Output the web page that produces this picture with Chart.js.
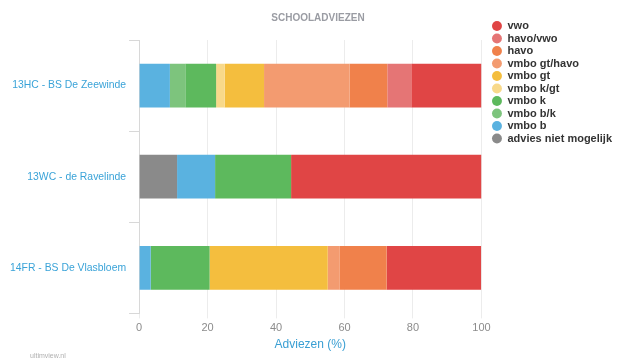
<!DOCTYPE html>
<html>
<head>
<meta charset="utf-8">
<script src="https://cdn.jsdelivr.net/npm/chart.js@4"></script>
<style>
  html, body { margin: 0; padding: 0; background: #fff; }
  #wrap { width: 619px; height: 358px; }
</style>
</head>
<body>
<div id="wrap"><canvas id="myChart"></canvas></div>
<script>
// categories (schools)
const SCHOOLS = ["13HC - BS De Zeewinde", "13WC - de Ravelinde", "14FR - BS De Vlasbloem"];

// series, in stacking order (left to right)
const LABELS = [
    "advies niet mogelijk", "vmbo b", "vmbo b/k", "vmbo k", "vmbo k/gt",
    "vmbo gt", "vmbo gt/havo", "havo", "havo/vwo", "vwo",
];
const NIET_MOGELIJK = [0, 11.1, 0];
const VMBO_B = [9, 11.1, 3.4];
const VMBO_BK = [4.5, 0, 0];
const VMBO_K = [9, 22.2, 17.2];
const VMBO_KGT = [2.5, 0, 0];
const VMBO_GT = [11.5, 0, 34.5];
const VMBO_GTHAVO = [25, 0, 3.4];
const HAVO = [11, 0, 13.8];
const HAVO_VWO = [7, 0, 0];
const VWO = [20.5, 55.6, 27.6];
const X_TICKS = [0, 20, 40, 60, 80, 100];

// Color Codes
const COLORS = [
    "#8a8a8a", // grey
    "#5ab2e0", // blue
    "#7dc47d", // light green
    "#5db95d", // green
    "#f8d98a", // light yellow
    "#f4be3e", // yellow
    "#f39b70", // salmon
    "#f0814b", // orange
    "#e57575", // pink
    "#e04545", // red
];

const SERIES = [NIET_MOGELIJK, VMBO_B, VMBO_BK, VMBO_K, VMBO_KGT,
    VMBO_GT, VMBO_GTHAVO, HAVO, HAVO_VWO, VWO];

const datasets = SERIES.map((values, i) => ({
    label: LABELS[i],
    data: values,
    backgroundColor: COLORS[i],
    borderWidth: 0,
    barPercentage: 0.48,
    categoryPercentage: 1,
}));

const FONT = "'Liberation Sans', Arial, Helvetica, sans-serif";

// small credit line in the bottom left corner, plus a few nudges after layout
const creditPlugin = {
    id: "credit",
    afterLayout(chart) {
        // push legend a bit away from the bars, title a bit to the right
        chart.legend.left += 9;
        chart.legend.right += 9;
        chart.titleBlock.left += 8;
        chart.titleBlock.right += 8;
    },
    afterDraw(chart) {
        const c = chart.ctx;
        c.save();
        c.font = "7px " + FONT;
        c.fillStyle = "#b0b0b0";
        c.textBaseline = "middle";
        c.fillText("ultimview.nl", 30, 356);
        c.restore();
    },
};

window.onload = function () {
    const ctx = document.getElementById("myChart").getContext("2d");
    window.graph = new Chart(ctx, {
        type: "bar",
        data: { labels: SCHOOLS, datasets: datasets },
        plugins: [creditPlugin],
        options: {
            indexAxis: "y",
            responsive: true,
            maintainAspectRatio: false,
            animation: false,
            layout: { padding: { left: 7, right: 6, bottom: 3 } },
            plugins: {
                title: {
                    display: true,
                    text: "SCHOOLADVIEZEN",
                    color: "#9a9ca3",
                    font: { family: FONT, size: 10, weight: "bold" },
                    padding: { top: 12, bottom: 16 },
                },
                legend: {
                    position: "right",
                    align: "start",
                    reverse: true,
                    title: {
                        display: true,
                        text: " ",
                        font: { size: 10 },
                        padding: { top: 0, bottom: 7 },
                    },
                    labels: {
                        usePointStyle: true,
                        pointStyle: "circle",
                        boxWidth: 10,
                        boxHeight: 7,
                        padding: 1.5,
                        color: "#333",
                        font: { family: FONT, size: 11, weight: "bold" },
                    },
                },
                tooltip: { enabled: false },
            },
            scales: {
                x: {
                    stacked: true,
                    min: 0,
                    max: 100,
                    afterBuildTicks: (axis) => {
                        axis.ticks = X_TICKS.map((v) => ({ value: v }));
                    },
                    grid: { color: "#ececec", tickLength: 5 },
                    border: { display: false },
                    ticks: {
                        color: "#8c8c8c",
                        padding: 3,
                        font: { family: FONT, size: 11 },
                    },
                    title: {
                        display: true,
                        text: "Adviezen (%)",
                        color: "#3a9fd3",
                        font: { family: FONT, size: 12 },
                        padding: { top: 0, bottom: 3 },
                    },
                },
                y: {
                    stacked: true,
                    grid: { drawOnChartArea: false, color: "#d8d8d8", tickLength: 10 },
                    border: { color: "#d8d8d8" },
                    ticks: {
                        color: "#3aa3d8",
                        padding: 3,
                        font: { family: FONT, size: 10.4 },
                    },
                },
            },
        },
    });
};
</script>
</body>
</html>
